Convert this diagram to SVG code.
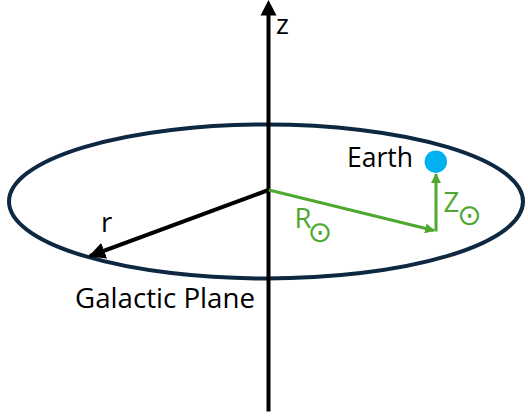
<svg xmlns="http://www.w3.org/2000/svg" width="528" height="418" viewBox="0 0 528 418">
<defs>
<style>
.lbl{font-family:"Open Sans","Liberation Sans",sans-serif;font-size:27.5px;fill:#000}
.grn{fill:#4EA72E}
.sun{font-family:"DejaVu Sans",sans-serif;font-size:29px;text-anchor:middle}
.blk{stroke:#000;stroke-width:4;fill:none}
.gl{stroke:#4EA72E;stroke-width:3;fill:none}
</style>
<marker id="ab" viewBox="0 0 10 10" refX="9" refY="5" markerWidth="4.2" markerHeight="4.2" orient="auto" markerUnits="strokeWidth">
<path d="M0,0 L10,5 L0,10 z" fill="#000"/>
</marker>
<marker id="ag" viewBox="0 0 10 10" refX="9" refY="5" markerWidth="3.3" markerHeight="3.3" orient="auto" markerUnits="strokeWidth">
<path d="M0,0 L10,5 L0,10 z" fill="#4EA72E"/>
</marker>
</defs>
<rect width="528" height="418" fill="#fff"/>
<g id="plane">
<ellipse cx="266" cy="201.5" rx="257" ry="77" fill="none" stroke="#0E2841" stroke-width="4"/>
<text class="lbl" x="75" y="308" textLength="180" lengthAdjust="spacingAndGlyphs">Galactic Plane</text>
</g>
<g id="earth">
<circle cx="435.8" cy="161.7" r="11.2" fill="#00B0F0"/>
<text class="lbl" x="347" y="167.3" textLength="66" lengthAdjust="spacingAndGlyphs">Earth</text>
</g>
<g id="connectors">
<line x1="268.5" y1="411.5" x2="268.5" y2="14" class="blk"/>
<path d="M260.5,15.5 L268.5,0 L276.5,15.5 z" fill="#000"/>
<line x1="268.5" y1="190" x2="90" y2="256" class="blk" marker-end="url(#ab)"/>
<line x1="269" y1="190" x2="434" y2="230.5" class="gl" marker-end="url(#ag)"/>
<line x1="436" y1="231.5" x2="436" y2="174" class="gl" marker-end="url(#ag)"/>
</g>
<g id="labels">
<text class="lbl" x="276" y="34">z</text>
<text class="lbl" x="101" y="232">r</text>
<text class="lbl grn" x="294.5" y="228.3">R<tspan class="sun" x="320" y="241.7">⊙</tspan></text>
<text class="lbl grn" x="443.5" y="212">Z<tspan class="sun" x="469.5" y="225">⊙</tspan></text>
</g>
</svg>
